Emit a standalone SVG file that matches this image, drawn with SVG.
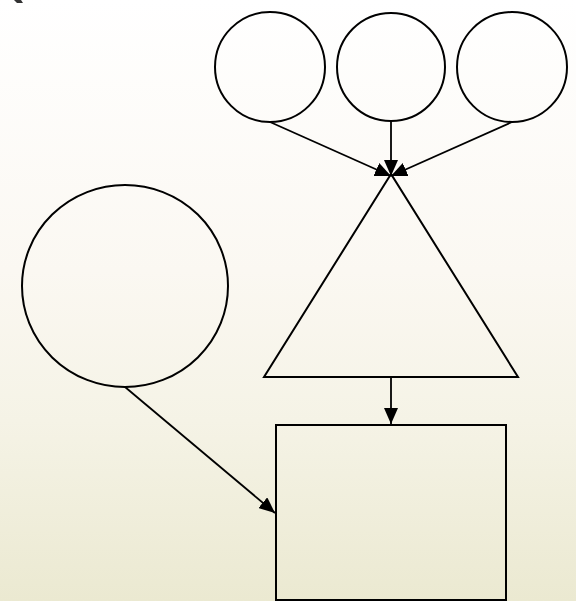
<svg xmlns="http://www.w3.org/2000/svg" width="576" height="601" viewBox="0 0 576 601">
<defs>
<linearGradient id="bg" x1="0" y1="0" x2="0" y2="1">
<stop offset="0" stop-color="#ffffff"/>
<stop offset="0.45" stop-color="#fbf8f2"/>
<stop offset="0.7" stop-color="#f5f3e6"/>
<stop offset="1" stop-color="#ebe9d1"/>
</linearGradient>
<marker id="ah" markerWidth="16" markerHeight="14" refX="16" refY="7" orient="auto" markerUnits="userSpaceOnUse">
<path d="M0,0 L16,7 L0,14 Z" fill="#000"/>
</marker>
</defs>
<style>
.shape{fill:none;stroke:#000;stroke-width:2}
.conn{fill:none;stroke:#000;stroke-width:1.8;marker-end:url(#ah)}
</style>
<rect x="0" y="0" width="576" height="601" fill="url(#bg)"/>
<path d="M14,0 L21,0 L23,3 L17,3 Z" fill="#333"/>
<g id="circle1"><circle class="shape" cx="270" cy="67" r="55"/></g>
<g id="circle2"><circle class="shape" cx="391" cy="67" r="54"/></g>
<g id="circle3"><circle class="shape" cx="512" cy="67" r="55"/></g>
<g id="bigcircle"><ellipse class="shape" cx="125" cy="286" rx="103" ry="101"/></g>
<g id="triangle"><polygon class="shape" points="391,174 264,377 518,377"/></g>
<g id="box"><rect class="shape" x="276" y="425" width="230" height="175"/></g>
<g id="connectors">
<line class="conn" x1="270" y1="122" x2="391" y2="176"/>
<line class="conn" x1="391" y1="121" x2="391" y2="176"/>
<line class="conn" x1="512" y1="122" x2="391" y2="176"/>
<line class="conn" x1="391" y1="377" x2="391" y2="424"/>
<line class="conn" x1="125" y1="387" x2="275" y2="513"/>
</g>
</svg>
